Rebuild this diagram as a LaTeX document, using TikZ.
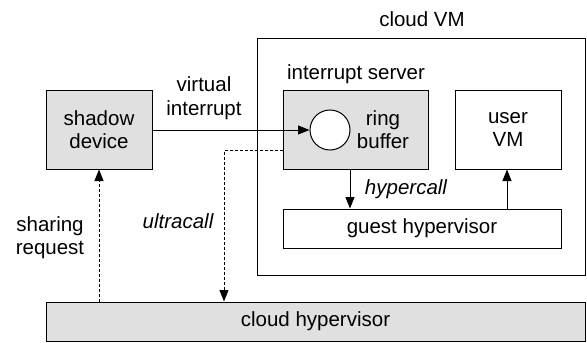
\documentclass[tikz,border=0pt]{standalone}
\usepackage{fontspec}
\setmainfont{Liberation Sans}
\usetikzlibrary{arrows.meta}
\definecolor{boxgray}{RGB}{224,224,224}
\begin{document}
\begin{tikzpicture}[x=1pt,y=-1pt,
  every node/.style={font=\fontsize{20.5}{23.5}\selectfont, inner sep=0pt},
  box/.style={draw, line width=1pt, rectangle, align=center},
  shaded/.style={box, fill=boxgray},
  arr/.style={line width=1pt, -{Triangle[length=11.5pt,width=9pt]}},
  darr/.style={arr, dash pattern=on 3pt off 2pt},
  lbl/.style={anchor=base, align=center},
  ilbl/.style={font=\fontsize{20.5}{23.5}\selectfont\itshape}]
\useasboundingbox (0,0) rectangle (587,343);

% outer VM frame and its title
\node[box, minimum width=328pt, minimum height=237pt] (cloudvm) at (421,156.5) {};
\node[lbl] (cloudvmlbl) at (422,26) {cloud VM};

% device side
\node[shaded, minimum width=106pt, minimum height=79pt] (shadow) at (99,129.5) {shadow\\device};

% interrupt server with its ring buffer
\node[shaded, minimum width=145pt, minimum height=79pt] (server) at (355.5,129.5) {};
\node[lbl] (serverlbl) at (356,79) {interrupt server};
\node[draw, circle, line width=1pt, fill=white, minimum size=40pt] (ring) at (330,130) {};
\node[align=center] (ringlbl) at (383,129.5) {ring\\buffer};

% user VM and the two hypervisors
\node[box, minimum width=106pt, minimum height=79pt] (uservm) at (508,129.5) {user\\VM};
\node[box, minimum width=278pt, minimum height=39pt] (guest) at (422,228.5) {guest hypervisor};
\node[shaded, minimum width=539pt, minimum height=39pt] (cloudhyp) at (315.5,321.5) {cloud hypervisor};

% connectors
\coordinate (hc) at (350,0);
\coordinate (ua) at (507,0);
\coordinate (uc) at (224,150);

\draw[arr] (shadow.east |- ring.west) -- (ring.west);
\node[align=center] (vilbl) at (204,98) {virtual\\interrupt};

\draw[arr] (server.south -| hc) -- (guest.north -| hc);
\node[lbl, ilbl] (hclbl) at (406,194) {hypercall};

\draw[arr] (guest.north -| ua) -- (uservm.south -| ua);

\draw[darr] (server.west |- uc) -- (uc) -- (cloudhyp.north -| uc);
\node[lbl, ilbl] (uclbl) at (178,228) {ultracall};

\draw[darr] (cloudhyp.north -| shadow.south) -- (shadow.south);
\node[align=center] (srlbl) at (50,237.5) {sharing\\request};
\end{tikzpicture}
\end{document}
